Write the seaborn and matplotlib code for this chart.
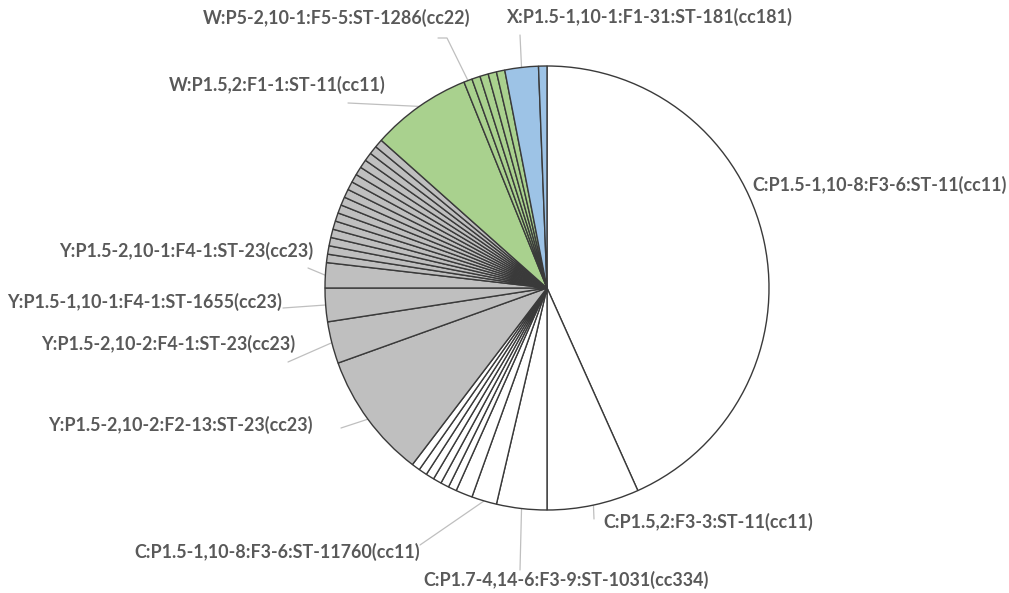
import numpy as np
import matplotlib
matplotlib.use("Agg")
import matplotlib.pyplot as plt
import seaborn as sns

# ---------------- data ----------------
c_values = [71, 11, 6, 3, 2, 1, 1, 1, 1, 1, 1]
c_labels = ["C:P1.5-1,10-8:F3-6:ST-11(cc11)", "C:P1.5,2:F3-3:ST-11(cc11)",
            "C:P1.7-4,14-6:F3-9:ST-1031(cc334)", "C:P1.5-1,10-8:F3-6:ST-11760(cc11)",
            "", "", "", "", "", "", ""]
y_values = [15, 5, 4, 3] + [1] * 16
y_labels = ["Y:P1.5-2,10-2:F2-13:ST-23(cc23)", "Y:P1.5-2,10-2:F4-1:ST-23(cc23)",
            "Y:P1.5-1,10-1:F4-1:ST-1655(cc23)", "Y:P1.5-2,10-1:F4-1:ST-23(cc23)"] + [""] * 16
w_values = [12, 1, 1, 1, 1, 1]
w_labels = ["W:P1.5,2:F1-1:ST-11(cc11)", "W:P5-2,10-1:F5-5:ST-1286(cc22)", "", "", "", ""]
x_values = [4, 1]
x_labels = ["X:P1.5-1,10-1:F1-31:ST-181(cc181)", ""]

group_colors = {"C": "#FFFFFF", "Y": "#BFBFBF", "W": "#A9D18E", "X": "#9DC3E6"}

values = c_values + y_values + w_values + x_values
labels = c_labels + y_labels + w_labels + x_labels
colors = ([group_colors["C"]] * len(c_values) + [group_colors["Y"]] * len(y_values)
          + [group_colors["W"]] * len(w_values) + [group_colors["X"]] * len(x_values))

# ---------------- layout ----------------
W, H = 1009, 593
CX, CY, R = 547, 288, 222

sns.set_theme(style="white")
plt.rcParams['font.family'] = ['Lato', 'DejaVu Sans']

fig = plt.figure(figsize=(W / 100, H / 100), dpi=100)
fig.patch.set_facecolor("white")
ax = fig.add_axes([(CX - R) / W, (H - CY - R) / H, 2 * R / W, 2 * R / H])

wedges, _ = ax.pie(values, colors=colors, startangle=90, counterclock=False, radius=1,
                   wedgeprops=dict(edgecolor="#3a3a3a", linewidth=1.0))
ax.set_xlim(-1, 1)
ax.set_ylim(-1, 1)
ax.set_aspect("equal")
ax.axis("off")


def pd(x, y):
    return ((x - CX) / R, (CY - y) / R)


# text placement (pixel coords), alignment, leader path (pixel coords after wedge edge)
placements = {
    "C:P1.5-1,10-8:F3-6:ST-11(cc11)": ((752, 185), "left", []),
    "C:P1.5,2:F3-3:ST-11(cc11)": ((603, 522), "left", [(594, 519)]),
    "C:P1.7-4,14-6:F3-9:ST-1031(cc334)": ((423, 580), "left", [(520, 570)]),
    "C:P1.5-1,10-8:F3-6:ST-11760(cc11)": ((420, 552), "right", [(420, 545)]),
    "Y:P1.5-2,10-2:F2-13:ST-23(cc23)": ((313, 425), "right", [(341, 428)]),
    "Y:P1.5-2,10-2:F4-1:ST-23(cc23)": ((295, 344), "right", [(288, 362)]),
    "Y:P1.5-1,10-1:F4-1:ST-1655(cc23)": ((282, 302), "right", [(283, 308)]),
    "Y:P1.5-2,10-1:F4-1:ST-23(cc23)": ((313, 251), "right", [(308, 268)]),
    "W:P1.5,2:F1-1:ST-11(cc11)": ((386, 85), "right", [(348, 103)]),
    "W:P5-2,10-1:F5-5:ST-1286(cc22)": ((337, 18), "center", [(447, 38), (438, 38)]),
    "X:P1.5-1,10-1:F1-31:ST-181(cc181)": ((650, 17), "center", [(520, 35)]),
}

text_color = "#595959"
for wdg, lab in zip(wedges, labels):
    if not lab:
        continue
    (tx, ty), ha, path = placements[lab]
    mid = np.deg2rad((wdg.theta1 + wdg.theta2) / 2)
    sx, sy = np.cos(mid), np.sin(mid)
    if path:
        xs = [sx] + [pd(*p)[0] for p in path]
        ys = [sy] + [pd(*p)[1] for p in path]
        ax.plot(xs, ys, color="#BFBFBF", lw=0.9, clip_on=False, zorder=0)
    x, y = pd(tx, ty)
    ax.text(x, y, lab, ha=ha, va="center", fontsize=12.9, fontweight="bold",
            color=text_color, clip_on=False)

fig.savefig("out.png", dpi=100, facecolor="white")
